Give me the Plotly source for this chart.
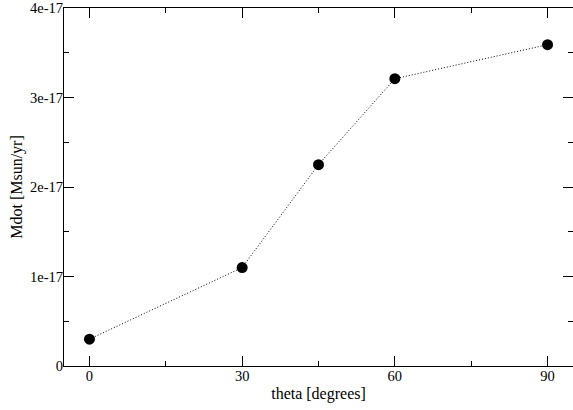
import plotly.graph_objects as go

theta = [0, 30, 45, 60, 90]
mdot = [0.30e-17, 1.10e-17, 2.25e-17, 3.21e-17, 3.59e-17]

x_tickvals = [0, 30, 60, 90]
x_ticktext = ["0", "30", "60", "90"]
y_tickvals = [0, 1e-17, 2e-17, 3e-17, 4e-17]
y_ticktext = ["0", "1e-17", "2e-17", "3e-17", "4e-17"]

fig = go.Figure()
fig.add_trace(go.Scatter(
    x=theta, y=mdot, mode="lines+markers",
    line=dict(color="black", width=1, dash="1px,2px"),
    marker=dict(color="black", size=11),
    showlegend=False, cliponaxis=False, hoverinfo="skip",
))

font = dict(family="Liberation Serif", size=14.5, color="black")
tfont = dict(family="Liberation Serif", size=16, color="black")
common = dict(
    showline=True, linecolor="black", linewidth=1, mirror="allticks",
    ticks="inside", ticklen=10, tickcolor="black", tickwidth=1,
    showgrid=False, zeroline=False, tickfont=font, automargin=False,
    ticklabelstandoff=-3,
)
fig.update_xaxes(
    range=[-5, 95], tickvals=x_tickvals, ticktext=x_ticktext,
    minor=dict(ticks="inside", ticklen=5, tickcolor="black", dtick=15, tick0=0, showgrid=False),
    title=dict(text="theta [degrees]", font=tfont, standoff=4),
    **common,
)
fig.update_yaxes(
    range=[0, 4e-17], tickvals=y_tickvals, ticktext=y_ticktext,
    minor=dict(ticks="inside", ticklen=5, tickcolor="black", dtick=0.5e-17, tick0=0, showgrid=False),
    title=dict(text="Mdot [Msun/yr]", font=tfont, standoff=3),
    **common,
)
fig.update_layout(
    width=573, height=410,
    margin=dict(l=64, r=0, t=8, b=44, autoexpand=False),
    paper_bgcolor="white", plot_bgcolor="white",
)
fig.write_html("out.html", config={"displayModeBar": False},
               post_script="document.body.style.margin='0';")
